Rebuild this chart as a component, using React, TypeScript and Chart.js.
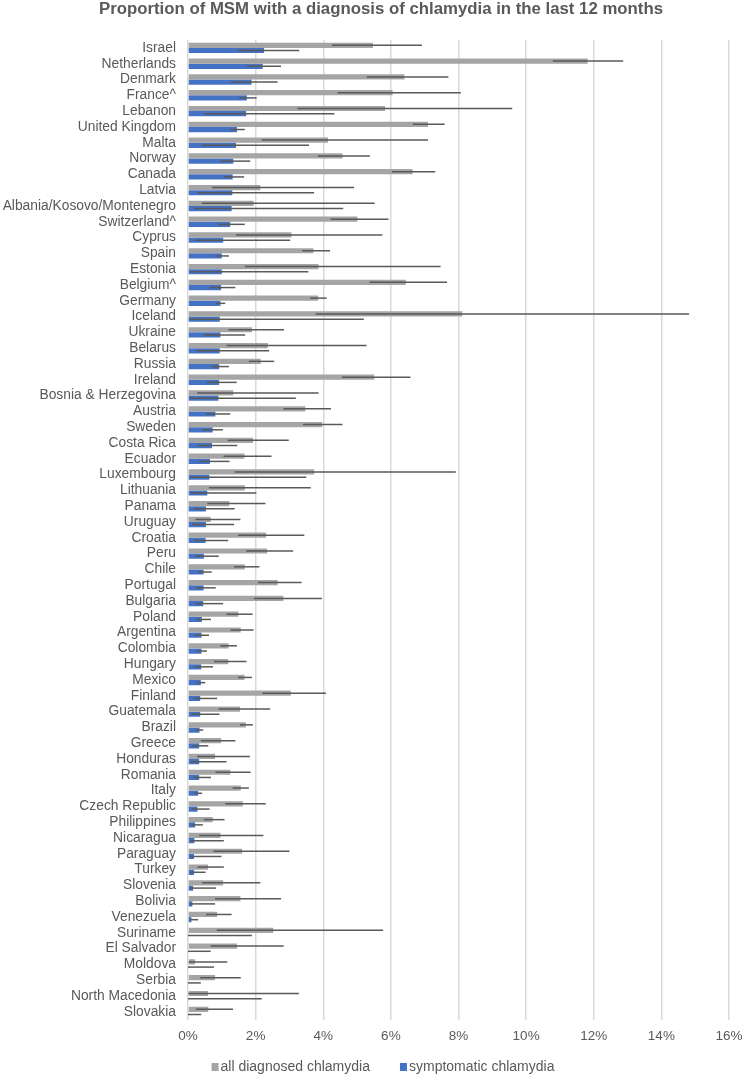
import React, { useEffect, useRef } from "react";
import { Chart, registerables } from "chart.js";

Chart.register(...registerables);

const categories = [
  "Israel", "Netherlands", "Denmark", "France^", "Lebanon", "United Kingdom", "Malta", "Norway", "Canada", "Latvia",
  "Albania/Kosovo/Montenegro", "Switzerland^", "Cyprus", "Spain", "Estonia", "Belgium^", "Germany", "Iceland", "Ukraine", "Belarus",
  "Russia", "Ireland", "Bosnia & Herzegovina", "Austria", "Sweden", "Costa Rica", "Ecuador", "Luxembourg", "Lithuania", "Panama",
  "Uruguay", "Croatia", "Peru", "Chile", "Portugal", "Bulgaria", "Poland", "Argentina", "Colombia", "Hungary",
  "Mexico", "Finland", "Guatemala", "Brazil", "Greece", "Honduras", "Romania", "Italy", "Czech Republic", "Philippines",
  "Nicaragua", "Paraguay", "Turkey", "Slovenia", "Bolivia", "Venezuela", "Suriname", "El Salvador", "Moldova", "Serbia",
  "North Macedonia", "Slovakia",
];

const allDiagnosed = [
  5.47, 11.82, 6.40, 6.05, 5.83, 7.10, 4.14, 4.57, 6.64, 2.14,
  1.94, 5.01, 3.06, 3.71, 3.86, 6.44, 3.85, 8.11, 1.89, 2.36,
  2.15, 5.51, 1.34, 3.47, 3.97, 1.92, 1.67, 3.73, 1.68, 1.22,
  0.67, 2.31, 2.34, 1.68, 2.65, 2.82, 1.49, 1.56, 1.20, 1.19,
  1.67, 3.04, 1.54, 1.71, 0.98, 0.80, 1.25, 1.56, 1.62, 0.73,
  0.96, 1.60, 0.59, 1.04, 1.55, 0.86, 2.52, 1.45, 0.21, 0.80,
  0.59, 0.60,
];
const allLower = [
  4.26, 10.79, 5.29, 4.42, 3.24, 6.65, 2.18, 3.84, 6.03, 0.71,
  0.41, 4.22, 1.42, 3.38, 1.68, 5.37, 3.61, 3.77, 1.20, 1.14,
  1.80, 4.55, 0.27, 2.82, 3.40, 1.17, 1.05, 1.38, 0.62, 0.57,
  0.22, 1.48, 1.72, 1.36, 2.07, 1.95, 1.14, 1.26, 0.96, 0.77,
  1.48, 2.20, 0.90, 1.54, 0.38, 0.27, 0.81, 1.32, 1.10, 0.47,
  0.33, 0.75, 0.28, 0.42, 0.80, 0.53, 0.85, 0.67, 0.02, 0.35,
  0.01, 0.23,
];
const allUpper = [
  6.92, 12.87, 7.70, 8.07, 9.59, 7.59, 7.10, 5.38, 7.31, 4.91,
  5.52, 5.93, 5.75, 4.20, 7.47, 7.66, 4.10, 14.82, 2.84, 5.28,
  2.55, 6.58, 3.86, 4.23, 4.57, 2.98, 2.47, 7.92, 3.63, 2.29,
  1.55, 3.44, 3.11, 2.11, 3.36, 3.96, 1.91, 1.94, 1.45, 1.73,
  1.89, 4.08, 2.43, 1.92, 1.40, 1.83, 1.85, 1.80, 2.30, 1.08,
  2.23, 3.00, 1.06, 2.14, 2.75, 1.29, 5.77, 2.83, 1.16, 1.56,
  3.28, 1.33,
];

const symptomatic = [
  2.25, 2.21, 1.88, 1.74, 1.72, 1.45, 1.42, 1.34, 1.32, 1.31,
  1.29, 1.25, 1.04, 1.00, 1.00, 0.98, 0.96, 0.94, 0.96, 0.94,
  0.92, 0.92, 0.90, 0.81, 0.73, 0.71, 0.65, 0.63, 0.57, 0.53,
  0.53, 0.52, 0.47, 0.46, 0.46, 0.45, 0.41, 0.40, 0.40, 0.39,
  0.38, 0.36, 0.36, 0.34, 0.33, 0.33, 0.33, 0.30, 0.28, 0.21,
  0.19, 0.18, 0.18, 0.15, 0.13, 0.10, 0, 0, 0, 0,
  0, 0,
];
const symLower = [
  1.48, 1.74, 1.27, 1.51, 0.48, 1.23, 0.40, 0.96, 1.05, 0.27,
  0.18, 0.90, 0.21, 0.81, 0.07, 0.64, 0.83, 0.04, 0.47, 0.24,
  0.69, 0.56, 0.06, 0.52, 0.42, 0.28, 0.33, 0.06, 0.08, 0.17,
  0.12, 0.19, 0.21, 0.28, 0.23, 0.21, 0.24, 0.19, 0.25, 0.17,
  0.25, 0.17, 0.11, 0.21, 0.13, 0.08, 0.16, 0.19, 0.11, 0.11,
  0.06, 0.06, 0.06, 0.06, 0.05, 0.06, 0, 0, 0, 0,
  0, 0,
];
const symUpper = [
  3.29, 2.75, 2.65, 2.03, 4.33, 1.68, 3.58, 1.84, 1.66, 3.73,
  4.59, 1.68, 3.02, 1.21, 3.56, 1.40, 1.10, 5.20, 1.69, 2.40,
  1.21, 1.44, 3.19, 1.25, 1.03, 1.46, 1.23, 3.50, 2.02, 1.38,
  1.36, 1.19, 0.91, 0.70, 0.82, 1.04, 0.68, 0.62, 0.56, 0.74,
  0.51, 0.86, 0.93, 0.45, 0.60, 1.14, 0.68, 0.42, 0.64, 0.44,
  1.06, 0.99, 0.52, 0.83, 0.80, 0.30, 1.89, 0.67, 0.77, 0.38,
  2.18, 0.39,
];

const seriesNames = ["all diagnosed chlamydia", "symptomatic chlamydia"];
const seriesColors = ["#A5A5A5", "#4472C4"];
const titleText = "Proportion of MSM with a diagnosis of chlamydia in the last 12 months";

const FONT = "'Liberation Sans', Arial, sans-serif";
const TEXT = "#595959";

const errorRanges = [
  [allLower, allUpper],
  [symLower, symUpper],
];

const errorBarPlugin = {
  id: "errorBars",
  afterDatasetsDraw(chart: any) {
    const ctx = chart.ctx;
    const xs = chart.scales.x;
    ctx.save();
    ctx.strokeStyle = "#595959";
    ctx.lineWidth = 1.5;
    chart.data.datasets.forEach((_ds: any, i: number) => {
      const meta = chart.getDatasetMeta(i);
      const [lo, hi] = errorRanges[i];
      meta.data.forEach((el: any, j: number) => {
        const x1 = xs.getPixelForValue(lo[j]);
        const x2 = xs.getPixelForValue(hi[j]);
        ctx.beginPath();
        ctx.moveTo(x1, el.y);
        ctx.lineTo(x2, el.y);
        ctx.stroke();
      });
    });
    ctx.restore();
  },
};

// Title and legend drawn on the canvas at the reference's positions
const textPlugin = {
  id: "titleLegend",
  afterDraw(chart: any) {
    const ctx = chart.ctx;
    ctx.save();
    ctx.fillStyle = TEXT;
    ctx.font = `bold 16.8px ${FONT}`;
    ctx.textAlign = "center";
    ctx.textBaseline = "middle";
    ctx.fillText(titleText, 381, 9);

    ctx.font = `14px ${FONT}`;
    ctx.textAlign = "left";
    const box = 7;
    const gap = 2;
    const itemGap = 30;
    const widths = chart.data.datasets.map((d: any) => ctx.measureText(d.label).width);
    const total = widths.reduce((a: number, w: number) => a + box + gap + w, 0) + itemGap * (widths.length - 1);
    let x = 383 - total / 2;
    const y = 1067;
    chart.data.datasets.forEach((d: any, i: number) => {
      ctx.fillStyle = d.backgroundColor;
      ctx.fillRect(x, y - 4, box, 8);
      ctx.fillStyle = TEXT;
      ctx.fillText(d.label, x + box + gap, y);
      x += box + gap + widths[i] + itemGap;
    });
    ctx.restore();
  },
};

export default function App() {
  const ref = useRef<HTMLCanvasElement | null>(null);
  useEffect(() => {
    document.body.style.margin = "0";
    const canvas = ref.current;
    if (!canvas) return;
    const chart = new Chart(canvas, {
      type: "bar",
      data: {
        labels: categories,
        datasets: [
          {
            label: seriesNames[0],
            data: allDiagnosed,
            backgroundColor: seriesColors[0],
            categoryPercentage: 0.66,
            barPercentage: 1.0,
          },
          {
            label: seriesNames[1],
            data: symptomatic,
            backgroundColor: seriesColors[1],
            categoryPercentage: 0.66,
            barPercentage: 1.0,
          },
        ],
      },
      options: {
        indexAxis: "y",
        responsive: false,
        animation: false,
        layout: { padding: { left: 0, right: 15, top: 40, bottom: 23 } },
        plugins: {
          title: { display: false },
          legend: { display: false },
          tooltip: { enabled: false },
        },
        scales: {
          x: {
            min: 0,
            max: 16,
            ticks: {
              stepSize: 2,
              color: TEXT,
              font: { family: FONT, size: 13.5 },
              padding: 8,
              callback: (v: any) => v + "%",
            },
            grid: { color: "#D9D9D9", lineWidth: 1.5, drawTicks: false },
            border: { display: false },
            afterFit: (s: any) => {
              s.paddingLeft = 0;
              s.paddingRight = 0;
            },
          },
          y: {
            ticks: {
              color: TEXT,
              font: { family: FONT, size: 13.8 },
              padding: 12,
              autoSkip: false,
            },
            grid: { display: false, drawTicks: false },
            border: { display: false },
            afterFit: (s: any) => {
              s.width = 188;
              s.paddingTop = 0;
              s.paddingBottom = 0;
            },
          },
        },
      },
      plugins: [errorBarPlugin, textPlugin],
    });
    return () => chart.destroy();
  }, []);
  return (
    <div style={{ width: 744, height: 1075 }}>
      <canvas ref={ref} width={744} height={1075} style={{ display: "block" }} />
    </div>
  );
}
